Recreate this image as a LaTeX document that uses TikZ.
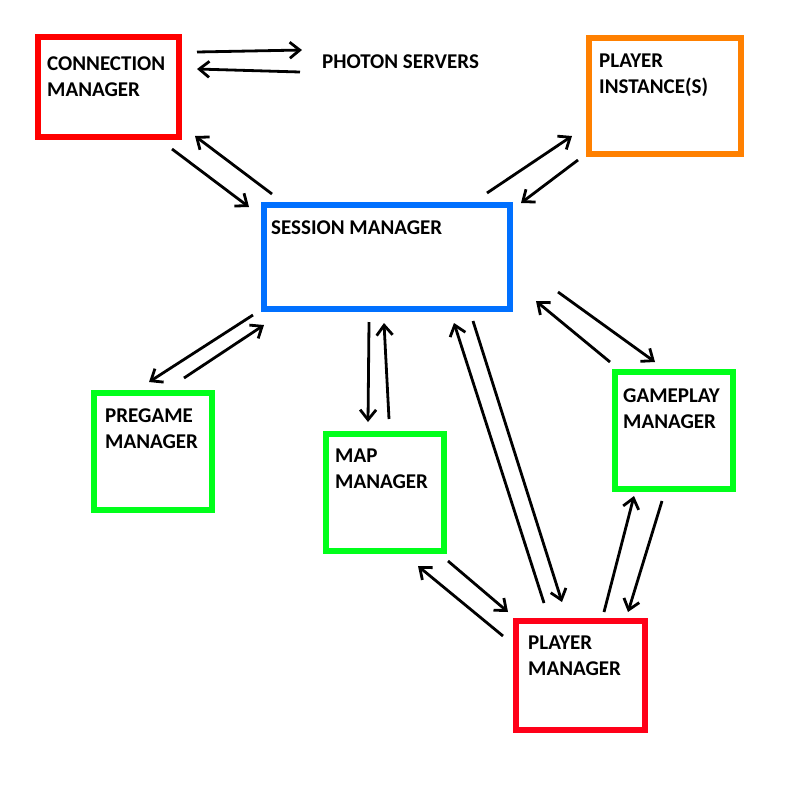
\documentclass[tikz,border=0pt]{standalone}
\usepackage{fontspec}
\setmainfont{Carlito}
\usetikzlibrary{arrows.meta}
\definecolor{cmred}{HTML}{FF0000}
\definecolor{pmred}{HTML}{FF0018}
\definecolor{piorange}{HTML}{FF8000}
\definecolor{smblue}{HTML}{0070FF}
\definecolor{mgreen}{HTML}{00FF1A}
\tikzset{
  box/.style={draw=#1, line width=5.5pt, fill=none, inner sep=0pt},
  lbl/.style={anchor=base west, inner sep=0pt, align=left, font=\fontsize{21}{26}\selectfont\bfseries},
  conn/.style={line width=2.8pt, -{Straight Barb[length=10pt,width=16pt,line width=2.8pt]}}
}
\begin{document}
\begin{tikzpicture}[x=1pt,y=-1pt]
\useasboundingbox (0,0) rectangle (800,796);
% boxes
\node[box=cmred, minimum width=141pt, minimum height=100pt] (cm) at (108.5,87) {};
\node[box=piorange, minimum width=152pt, minimum height=116pt] (pi) at (665,96) {};
\node[box=smblue, minimum width=246pt, minimum height=104pt] (sm) at (387,257) {};
\node[box=mgreen, minimum width=118pt, minimum height=117pt] (pg) at (153,451.5) {};
\node[box=mgreen, minimum width=118pt, minimum height=117pt] (mm) at (385,492.5) {};
\node[box=mgreen, minimum width=118pt, minimum height=117pt] (gm) at (674,430.5) {};
\node[box=pmred, minimum width=129pt, minimum height=109pt] (pm) at (580.5,675.5) {};
% labels (base = baseline of last line)
\node[lbl] (cmt) at (47,96) {CONNECTION\\MANAGER};
\node[lbl] (ps) at (322,68) {PHOTON SERVERS};
\node[lbl] (pit) at (599,93) {PLAYER\\INSTANCE(S)};
\node[lbl] (smt) at (271,234) {SESSION MANAGER};
\node[lbl] (pgt) at (105,448) {PREGAME\\MANAGER};
\node[lbl] (mmt) at (335,488) {MAP\\MANAGER};
\node[lbl] (gmt) at (623,428) {GAMEPLAY\\MANAGER};
\node[lbl] (pmt) at (528,675) {PLAYER\\MANAGER};
% arrow end points
\coordinate (a1s) at (197,52);  \coordinate (a1e) at (302,50);
\coordinate (a2s) at (300,72);  \coordinate (a2e) at (197,69);
\coordinate (a3s) at (172,149); \coordinate (a3e) at (249,207);
\coordinate (a4s) at (272,194); \coordinate (a4e) at (195,136);
\coordinate (a5s) at (487,193); \coordinate (a5e) at (572,136);
\coordinate (a6s) at (578,160); \coordinate (a6e) at (521,203);
\coordinate (a7s) at (253,315); \coordinate (a7e) at (149,382);
\coordinate (a8s) at (184,378); \coordinate (a8e) at (264,325);
\coordinate (a9s) at (369,322); \coordinate (a9e) at (368,422);
\coordinate (a10s) at (389,419); \coordinate (a10e) at (384,323);
\coordinate (a11s) at (544,603); \coordinate (a11e) at (454,323);
\coordinate (a12s) at (473,321); \coordinate (a12e) at (562,602);
\coordinate (a13s) at (610,362); \coordinate (a13e) at (536,301);
\coordinate (a14s) at (558,292); \coordinate (a14e) at (655,362);
\coordinate (a15s) at (604,612); \coordinate (a15e) at (634,496);
\coordinate (a16s) at (662,501); \coordinate (a16e) at (628,612);
\coordinate (a17s) at (503,636); \coordinate (a17e) at (418,566);
\coordinate (a18s) at (448,561); \coordinate (a18e) at (508,612);
\foreach \i in {1,...,18}{\draw[conn] (a\i s) -- (a\i e);}
\end{tikzpicture}
\end{document}
